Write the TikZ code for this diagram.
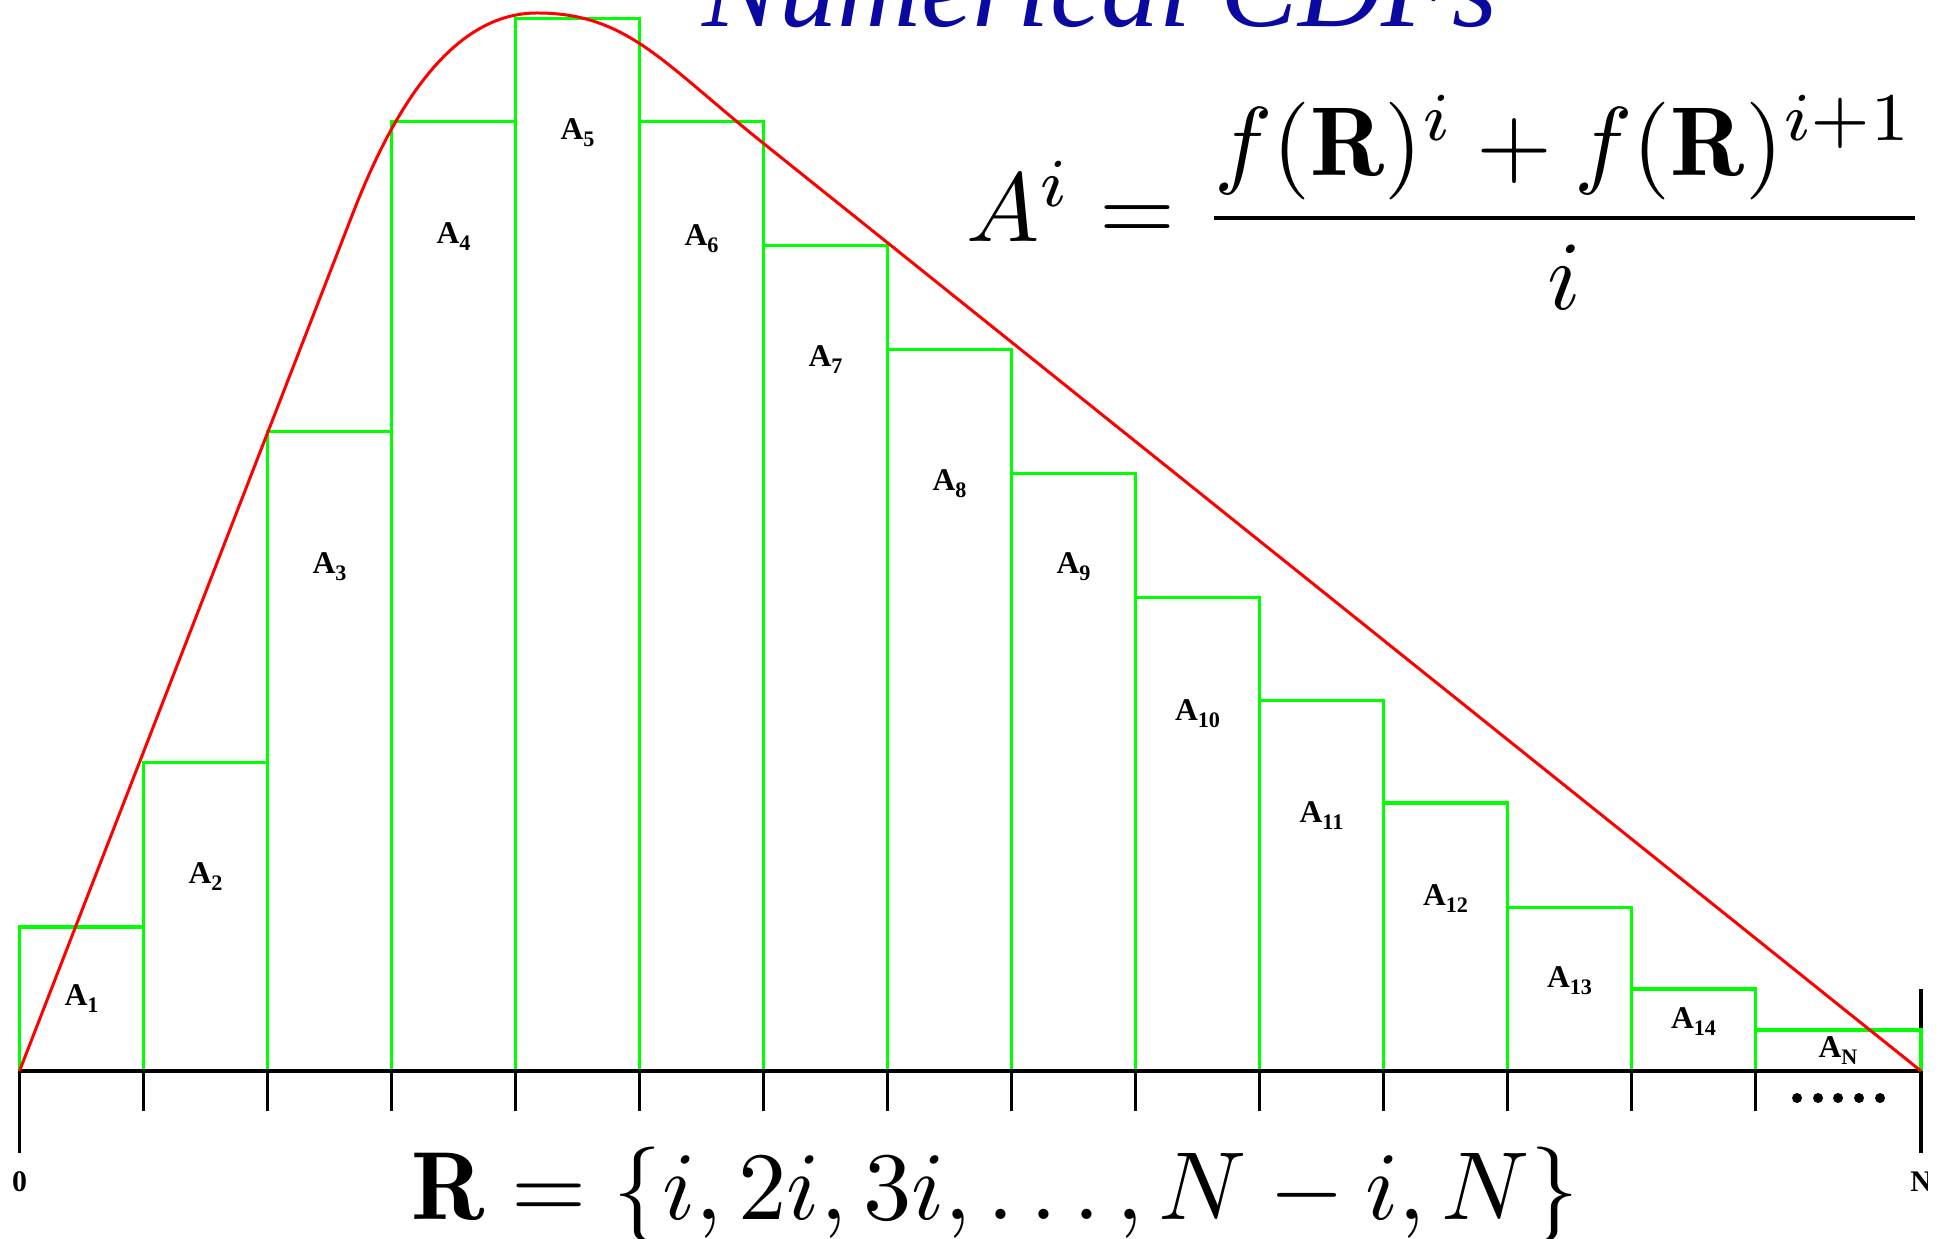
\documentclass[tikz,border=0pt]{standalone}
\usepackage{amsmath,amssymb}
\usepackage{graphicx}
\usepackage{fontspec}
\newfontfamily\timesfont{Liberation Serif}
\usepackage{tikz}
\usetikzlibrary{calc}

\definecolor{titleblue}{RGB}{10,10,160}
\definecolor{bargreen}{RGB}{0,255,0}

\newcommand{\alab}[1]{{\timesfont\bfseries\fontsize{9}{10}\selectfont
    A\raisebox{-0.22em}{\fontsize{6.3}{7}\selectfont #1}}}

\begin{document}
\begin{tikzpicture}[
    bar/.style={draw=bargreen,line width=1pt},
    pdf/.style={draw=red,line width=0.85pt},
    axisline/.style={draw=black,line width=1.1pt},
    alabel/.style={inner sep=0pt},
    endlabel/.style={inner sep=0pt,font=\timesfont\bfseries\fontsize{8.5}{10}\selectfont},
    bigmath/.style={inner sep=0pt}]
\useasboundingbox (0,0) rectangle (19.44,12.38);
\def\xo{0.195}
\def\yo{1.67}
\def\w{1.24}

% tick positions on R
\foreach \k in {0,...,14}{
    \coordinate (T\k) at ({\xo+\w*\k},\yo);
}
\coordinate (T15) at (19.21,\yo);

% ticks below the axis
\foreach \k in {1,...,14}{
    \draw[axisline] (T\k) -- ++(0,-0.4);
}
\draw[axisline] (T0) -- ++(0,-0.82);
\draw[axisline] ([yshift=0.82cm]T15) -- ++(0,-1.64);

% rectangles A_1 ... A_N
\foreach \h [count=\k from 1, evaluate=\k as \j using {int(\k-1)}] in
    {1.438,3.087,6.397,9.497,10.526,9.497,8.257,7.216,
     5.976,4.736,3.707,2.678,1.637,0.818,0.409}{
    \draw[bar] (T\j) |- ([yshift=\h cm]T\k) -- (T\k);
}
\draw[axisline] (T0) -- (T15);

% f(R)
\coordinate (rise) at (3.53,10.25);
\coordinate (peak) at (5.37,12.25);
\coordinate (fall) at (7.63,10.95);
\draw[pdf] (T0) -- (rise)
    .. controls (3.98,11.41) and (4.57,12.25) .. (peak)
    .. controls (6.27,12.25) and (6.63,11.75) .. (fall) -- (T15);

% labels
\foreach \k/\y in {1/2.39,2/3.61,3/6.71,4/10.01,5/11.05,6/9.99,7/8.78,
                   8/7.54,9/6.71,10/5.24,11/4.22,12/3.39,13/2.57,14/2.16}{
    \node[alabel] (A\k) at ({\xo+\w*(\k-0.5)},\y) {\alab{\k}};
}
\node[alabel] (AN) at (18.38,1.87) {\alab{N}};

\foreach \x in {17.97,18.18,18.38,18.59,18.80}{
    \fill (\x,1.40) circle (0.05);
}

\node[endlabel] (zero) at (0.195,0.56) {0};
\begin{scope}
\clip (18.8,0) rectangle (19.27,1.0);
\node[endlabel] (enn) at (19.21,0.56) {N};
\end{scope}

\node[anchor=base,inner sep=0pt,text=titleblue,
      font=\timesfont\itshape\fontsize{33}{40}\selectfont]
    (title) at (11.0,12.11) {Numerical CDFs};

\node[bigmath,anchor=base west] (area) at (9.655,9.96)
    {\scalebox{2.78}{$A^i = \dfrac{f(\mathbf{R})^i + f(\mathbf{R})^{i+1}}{i}$}};
\node[bigmath,anchor=base] (rset) at (9.95,0.19)
    {\scalebox{2.75}{$\mathbf{R} = \{i, 2i, 3i, \ldots, N-i, N\}$}};
\end{tikzpicture}
\end{document}
